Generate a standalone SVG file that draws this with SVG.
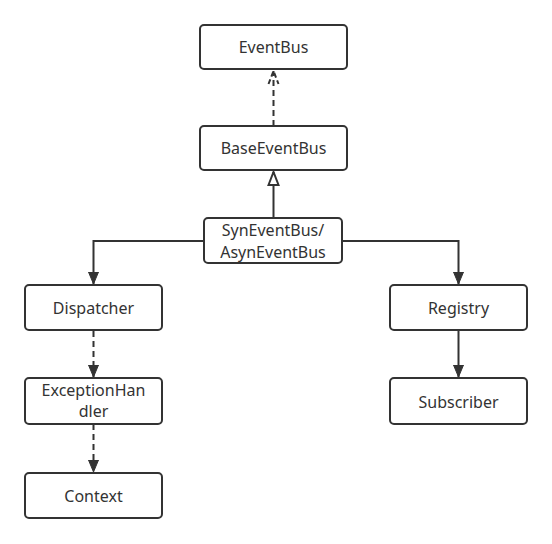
<svg xmlns="http://www.w3.org/2000/svg" width="552" height="544" viewBox="0 0 552 544">
<style>
.box{fill:#fff;stroke:#333;stroke-width:2}
.t{font-family:"Noto Sans","Open Sans",sans-serif;font-size:16px;fill:#333;text-anchor:middle;dominant-baseline:central}
.ln{fill:none;stroke:#333;stroke-width:2}
.dash{stroke-dasharray:6 4}
</style>
<defs>
<marker id="fill" markerWidth="12" markerHeight="14" refX="12" refY="6" orient="auto" markerUnits="userSpaceOnUse" viewBox="0 0 12 12">
<path d="M0,1 L12,6 L0,11 Z" fill="#333" stroke="#333" stroke-width="1"/>
</marker>
<marker id="hollow" markerWidth="16" markerHeight="14" refX="14" refY="7" orient="auto" markerUnits="userSpaceOnUse" viewBox="0 0 16 14">
<path d="M1,2 L14,7 L1,12 Z" fill="#fff" stroke="#333" stroke-width="2"/>
</marker>
<marker id="hollowdash" markerWidth="16" markerHeight="14" refX="14" refY="7" orient="auto" markerUnits="userSpaceOnUse" viewBox="0 0 16 14">
<path d="M1,2 L14,7 L1,12" fill="none" stroke="#333" stroke-width="2" stroke-dasharray="5 3"/>
</marker>
</defs>
<g id="connectors">
<path class="ln dash" d="M273.5,126 L273.5,71" marker-end="url(#hollowdash)"/>
<path class="ln" d="M273.5,217 L273.5,172" marker-end="url(#hollow)"/>
<path class="ln" d="M204,241 L93.5,241 L93.5,284" marker-end="url(#fill)"/>
<path class="ln" d="M342,241 L458.5,241 L458.5,284" marker-end="url(#fill)"/>
<path class="ln" d="M458.5,331 L458.5,377" marker-end="url(#fill)"/>
<path class="ln dash" d="M93.5,331 L93.5,377" marker-end="url(#fill)"/>
<path class="ln dash" d="M93.5,424 L93.5,472" marker-end="url(#fill)"/>
</g>
<g id="EventBus"><rect class="box" x="200" y="25" width="147" height="44" rx="4"/><text class="t" x="273.5" y="47">EventBus</text></g>
<g id="BaseEventBus"><rect class="box" x="200" y="126" width="147" height="44" rx="4"/><text class="t" x="273.5" y="148">BaseEventBus</text></g>
<g id="SynEventBus"><rect class="box" x="204" y="218" width="138" height="45" rx="4"/><text class="t" x="273" y="230">SynEventBus/</text><text class="t" x="273" y="252">AsynEventBus</text></g>
<g id="Dispatcher"><rect class="box" x="25" y="285" width="137" height="45" rx="4"/><text class="t" x="93.5" y="308">Dispatcher</text></g>
<g id="Registry"><rect class="box" x="390" y="285" width="137" height="45" rx="4"/><text class="t" x="458.5" y="308">Registry</text></g>
<g id="Subscriber"><rect class="box" x="390" y="378" width="137" height="46" rx="4"/><text class="t" x="458.5" y="402">Subscriber</text></g>
<g id="ExceptionHandler"><rect class="box" x="25" y="378" width="137" height="46" rx="4"/><text class="t" x="93.5" y="390">ExceptionHan</text><text class="t" x="93.5" y="411">dler</text></g>
<g id="Context"><rect class="box" x="25" y="473" width="137" height="45" rx="4"/><text class="t" x="93.5" y="496">Context</text></g>
</svg>
